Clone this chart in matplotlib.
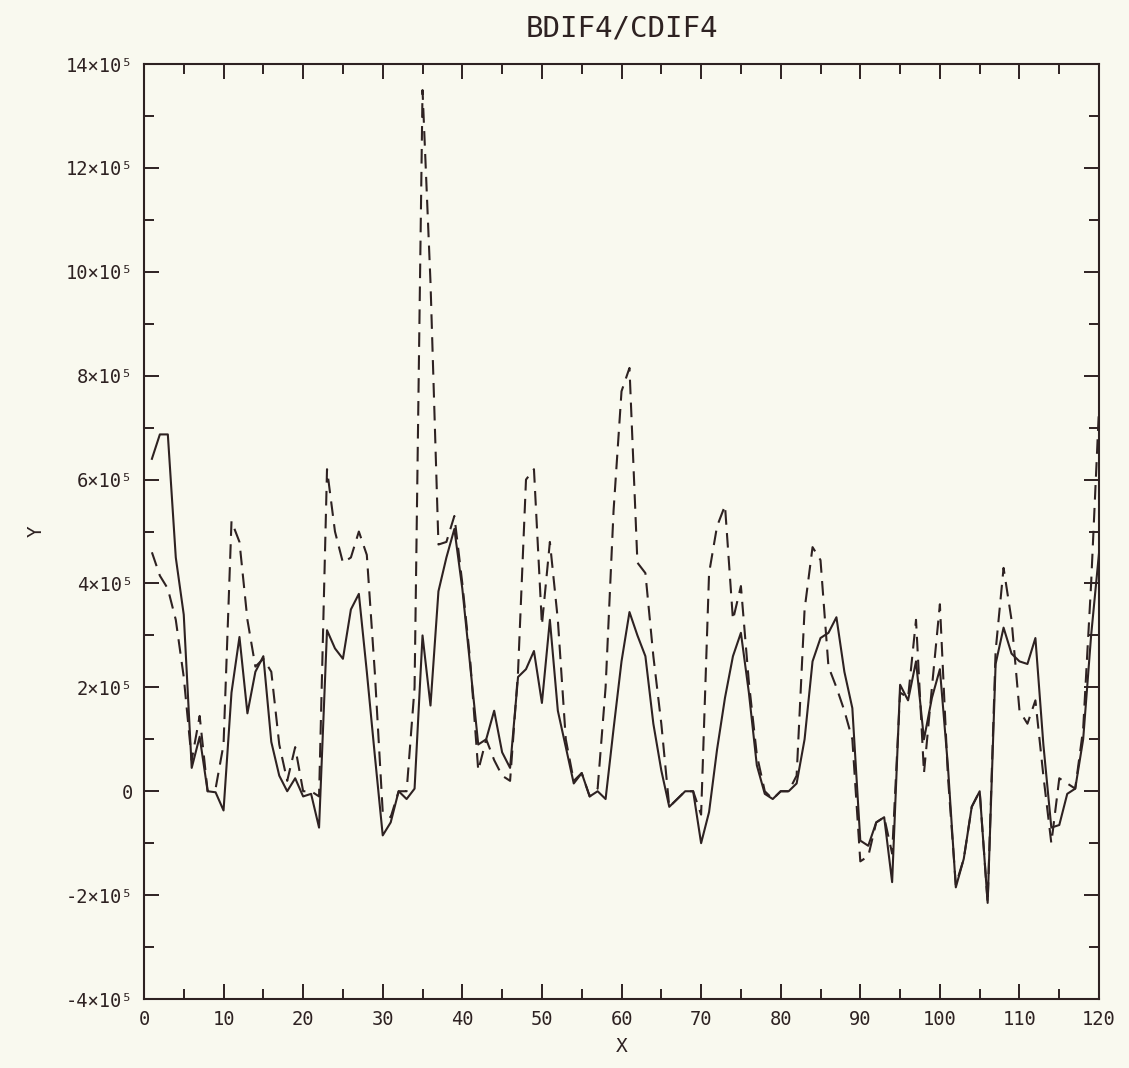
import matplotlib
matplotlib.use("Agg")
import matplotlib.pyplot as plt
from matplotlib.ticker import MultipleLocator, FuncFormatter
import numpy as np

plt.rcParams['font.family'] = ['DejaVu Sans Mono', 'DejaVu Sans']

ink = "#2e2222"
paper = "#f9f9ef"

# x positions and the two curves (values in units of 1e5)
x = np.arange(1, 121)

bdif4 = [6.4, 6.87, 6.87, 4.5, 3.4, 0.45, 1.05, 0.0, -0.02, -0.37,
         1.9, 2.97, 1.5, 2.3, 2.6, 0.95, 0.3, 0.0, 0.25, -0.1,
         -0.05, -0.7, 3.1, 2.75, 2.55, 3.5, 3.8, 2.3, 0.7, -0.85,
         -0.6, 0.0, -0.15, 0.05, 3.0, 1.65, 3.85, 4.5, 5.05, 3.9,
         2.4, 0.9, 1.0, 1.55, 0.75, 0.45, 2.2, 2.35, 2.7, 1.7,
         3.3, 1.55, 0.85, 0.15, 0.35, -0.1, 0.0, -0.15, 1.2, 2.5,
         3.45, 3.0, 2.6, 1.3, 0.4, -0.3, -0.15, 0.0, 0.0, -1.0,
         -0.4, 0.8, 1.8, 2.6, 3.05, 1.9, 0.5, -0.05, -0.15, 0.0,
         0.0, 0.15, 1.0, 2.5, 2.95, 3.05, 3.35, 2.3, 1.6, -0.95,
         -1.05, -0.6, -0.5, -1.75, 2.05, 1.75, 2.5, 1.0, 1.8, 2.35,
         0.5, -1.85, -1.3, -0.3, 0.0, -2.15, 2.45, 3.15, 2.65, 2.5,
         2.45, 2.95, 0.9, -0.7, -0.65, -0.05, 0.05, 1.0, 3.0, 4.6]

cdif4 = [4.6, 4.15, 3.9, 3.3, 2.2, 0.6, 1.45, 0.0, 0.05, 0.9,
         5.2, 4.8, 3.3, 2.4, 2.55, 2.3, 0.9, 0.2, 0.85, 0.0,
         0.0, -0.1, 6.2, 5.0, 4.4, 4.5, 5.0, 4.55, 2.3, -0.4,
         -0.5, 0.0, 0.0, 2.0, 13.5, 9.8, 4.75, 4.8, 5.3, 4.0,
         2.5, 0.4, 1.0, 0.6, 0.3, 0.2, 2.3, 6.0, 6.2, 3.2,
         4.8, 3.3, 1.0, 0.2, 0.35, -0.1, 0.05, 2.0, 5.4, 7.7,
         8.15, 4.4, 4.2, 2.6, 1.3, -0.3, -0.15, 0.0, 0.0, -0.45,
         4.2, 5.1, 5.5, 3.3, 3.95, 2.1, 0.7, 0.0, -0.15, 0.0,
         0.0, 0.3, 3.5, 4.7, 4.45, 2.4, 2.0, 1.55, 1.0, -1.35,
         -1.25, -0.6, -0.5, -1.2, 1.9, 1.8, 3.3, 0.35, 2.0, 3.6,
         0.3, -1.8, -1.3, -0.3, 0.0, -2.15, 2.7, 4.3, 3.3, 1.55,
         1.3, 1.75, 0.3, -1.0, 0.25, 0.15, 0.05, 1.2, 4.0, 7.4]

scale = 1e5
bdif4 = np.array(bdif4) * scale
cdif4 = np.array(cdif4) * scale

fig = plt.figure(figsize=(11.29, 10.68), dpi=100, facecolor=paper)
ax = fig.add_axes([0.1275, 0.0646, 0.846, 0.8754], facecolor=paper)

ax.plot(x, bdif4, color=ink, lw=1.5)
ax.plot(x, cdif4, color=ink, lw=1.5, dashes=(7, 4))

ax.set_xlim(0, 120)
ax.set_ylim(-4e5, 14e5)

ax.xaxis.set_major_locator(MultipleLocator(10))
ax.xaxis.set_minor_locator(MultipleLocator(5))
ax.yaxis.set_major_locator(MultipleLocator(2e5))
ax.yaxis.set_minor_locator(MultipleLocator(1e5))


def ylab(v, pos):
    n = int(round(v / scale))
    if n == 0:
        return "0"
    return f"{n}\u00d710\u2075"


ax.yaxis.set_major_formatter(FuncFormatter(ylab))

ax.tick_params(which='both', direction='in', top=True, right=True,
               color=ink, labelcolor=ink, width=1.4, labelsize=13.5)
ax.tick_params(which='major', length=11, pad=8)
ax.tick_params(which='minor', length=7)
for s in ax.spines.values():
    s.set_color(ink)
    s.set_linewidth(1.5)

ax.set_title("BDIF4/CDIF4", color=ink, fontsize=21, pad=20)
ax.set_xlabel("X", color=ink, fontsize=14, labelpad=6)
ax.set_ylabel("Y", color=ink, fontsize=14, labelpad=14)

fig.savefig("out.png", dpi=100, facecolor=paper)
